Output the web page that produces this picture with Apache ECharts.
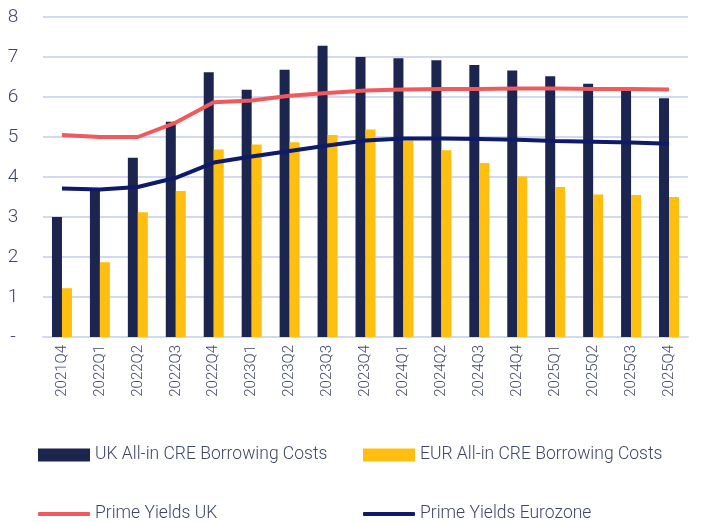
<!DOCTYPE html>
<html>
<head>
<meta charset="utf-8">
<script src="https://cdn.jsdelivr.net/npm/echarts@6/dist/echarts.min.js"></script>
<style>
  html, body { margin: 0; padding: 0; background: #fff; }
  #chart { width: 724px; height: 522px; }
</style>
</head>
<body>
<div id="chart"></div>
<script>
// 季度
const quarters = ['2021Q4', '2022Q1', '2022Q2', '2022Q3', '2022Q4', '2023Q1', '2023Q2', '2023Q3', '2023Q4',
    '2024Q1', '2024Q2', '2024Q3', '2024Q4', '2025Q1', '2025Q2', '2025Q3', '2025Q4'];

// 柱状数据
const ukBorrowing = [3.0, 3.7, 4.48, 5.38, 6.62, 6.18, 6.68, 7.28, 7.0, 6.97, 6.92, 6.8, 6.66, 6.52, 6.33, 6.18, 5.97];
const eurBorrowing = [1.22, 1.87, 3.12, 3.65, 4.69, 4.81, 4.87, 5.05, 5.19, 4.91, 4.67, 4.35, 4.01, 3.75, 3.56, 3.55, 3.5];

// 折线数据
const primeUK = [5.05, 5.0, 5.0, 5.36, 5.87, 5.91, 6.03, 6.1, 6.16, 6.19, 6.2, 6.2, 6.21, 6.21, 6.2, 6.2, 6.19];
const primeEZ = [3.71, 3.69, 3.75, 3.98, 4.36, 4.51, 4.65, 4.79, 4.91, 4.96, 4.96, 4.95, 4.93, 4.9, 4.88, 4.86, 4.83];

const names = ['UK All-in CRE Borrowing Costs', 'EUR All-in CRE Borrowing Costs', 'Prime Yields UK', 'Prime Yields Eurozone'];

const textColor = '#3f4668';
const fontFamily = 'Roboto, "Noto Sans", sans-serif';

const myChart = echarts.init(document.getElementById('chart'));

// 图例
function makeLegend(name, left, top, isLine) {
    return {
        data: [{ name: name, icon: isLine ? 'roundRect' : 'rect' }],
        left: left,
        top: top,
        itemWidth: 52,
        itemHeight: isLine ? 4 : 13,
        itemGap: 0,
        textStyle: { color: textColor, fontSize: 17.5, fontFamily: fontFamily, fontWeight: 300 },
    };
}

const option = {
    animation: false,
    grid: { left: 43, right: 36, top: 17, bottom: 185 },
    legend: [
        makeLegend(names[0], 33, 441, false),
        makeLegend(names[1], 358, 441, false),
        makeLegend(names[2], 33, 500, true),
        makeLegend(names[3], 358, 500, true),
    ],
    xAxis: {
        type: 'category',
        data: quarters,
        axisTick: { show: false },
        axisLine: { lineStyle: { color: '#d3d9ee', width: 2 } },
        axisLabel: {
            rotate: 90,
            interval: 0,
            margin: 8,
            color: textColor,
            fontSize: 15,
            fontFamily: fontFamily,
            fontWeight: 300,
        },
    },
    yAxis: {
        type: 'value',
        min: 0,
        max: 8,
        interval: 1,
        axisLine: { show: false },
        axisTick: { show: false },
        splitLine: { lineStyle: { color: '#d3d9ee', width: 2 } },
        axisLabel: {
            margin: 30,
            align: 'center',
            color: textColor,
            fontSize: 19,
            fontFamily: fontFamily,
            fontWeight: 300,
            formatter: (v) => (v === 0 ? '-' : String(v)),
        },
    },
    series: [
        {
            name: names[0],
            type: 'bar',
            data: ukBorrowing,
            barWidth: 10,
            barGap: '0%',
            itemStyle: { color: '#1b2550' },
        },
        {
            name: names[1],
            type: 'bar',
            data: eurBorrowing,
            barWidth: 10,
            itemStyle: { color: '#ffbf10' },
        },
        {
            name: names[2],
            type: 'line',
            data: primeUK,
            symbol: 'none',
            lineStyle: { color: '#f05a5c', width: 4 },
            itemStyle: { color: '#f05a5c' },
            z: 5,
        },
        {
            name: names[3],
            type: 'line',
            data: primeEZ,
            symbol: 'none',
            lineStyle: { color: '#0e1a6a', width: 4 },
            itemStyle: { color: '#0e1a6a' },
            z: 5,
        },
    ],
};

myChart.setOption(option);
</script>
</body>
</html>
